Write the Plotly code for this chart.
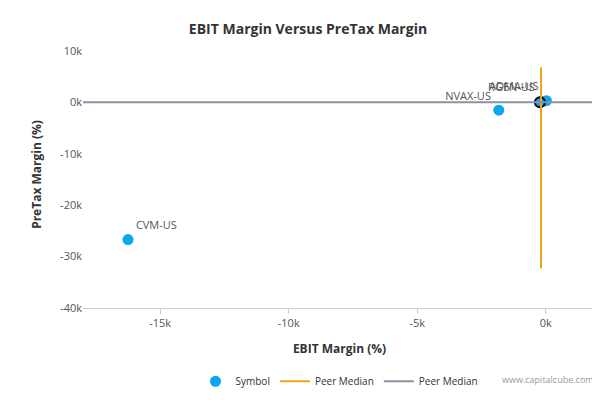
import plotly.graph_objects as go

symbols = ["CVM-US", "NVAX-US", "RGEN-US", "ADMA-US"]
ebit = [-16250, -1830, -120, 20]
pretax = [-26700, -1550, 150, 300]
highlight_x = [-230]
highlight_y = [0]
median_x = -190
median_y = 0
vline_y = [-32300, 6800]
hline_x = [-18000, 2000]

fig = go.Figure()
fig.add_trace(go.Scatter(x=ebit, y=pretax, mode="markers+text", text=symbols,
                         textposition=["top right", "top left", "top left", "top left"],
                         textfont=dict(size=11, color="#555"),
                         marker=dict(size=11, color="#0ea5f0"), name="Symbol"))
fig.add_trace(go.Scatter(x=highlight_x, y=highlight_y, mode="markers", showlegend=False,
                         marker=dict(size=10, color="#0ea5f0", line=dict(color="black", width=2))))
fig.add_trace(go.Scatter(x=[median_x, median_x], y=vline_y, mode="lines",
                         line=dict(color="#f5a21b", width=2), name="Peer Median"))
fig.add_trace(go.Scatter(x=hline_x, y=[median_y, median_y], mode="lines",
                         line=dict(color="#8a93a0", width=2), name="Peer Median"))

fig.update_layout(
    width=600, height=400, plot_bgcolor="white", paper_bgcolor="white",
    font=dict(family="Open Sans", size=11, color="#555"),
    title=dict(text="<b>EBIT Margin Versus PreTax Margin</b>", x=0.5, y=0.96,
               font=dict(size=14, color="#333")),
    margin=dict(l=75, r=12, t=33, b=90),
    xaxis=dict(title=dict(text="<b>EBIT Margin (%)</b>", font=dict(size=12, color="#333")),
               range=[-18000, 1950], tickvals=[-15000, -10000, -5000, 0],
               ticktext=["-15k", "-10k", "-5k", "0k"], showgrid=False, zeroline=False,
               showline=True, linecolor="#ccc", ticks="outside", tickcolor="#ccc",
               automargin=False),
    yaxis=dict(title=dict(text="<b>PreTax Margin (%)</b>", font=dict(size=12, color="#333")),
               range=[-40000, 11900], tickvals=[10000, 0, -10000, -20000, -30000, -40000],
               ticktext=["10k", "0k", "-10k", "-20k", "-30k", "-40k"],
               showgrid=False, zeroline=False, automargin=False),
    legend=dict(orientation="h", x=0.5, xanchor="center", y=-0.22, yanchor="top",
                font=dict(size=10, color="#333")),
    annotations=[dict(text="www.capitalcube.com", x=1, y=-0.3, xref="paper", yref="paper",
                      xanchor="right", showarrow=False, font=dict(size=9, color="#999"))],
)
fig.write_html("out.html")
